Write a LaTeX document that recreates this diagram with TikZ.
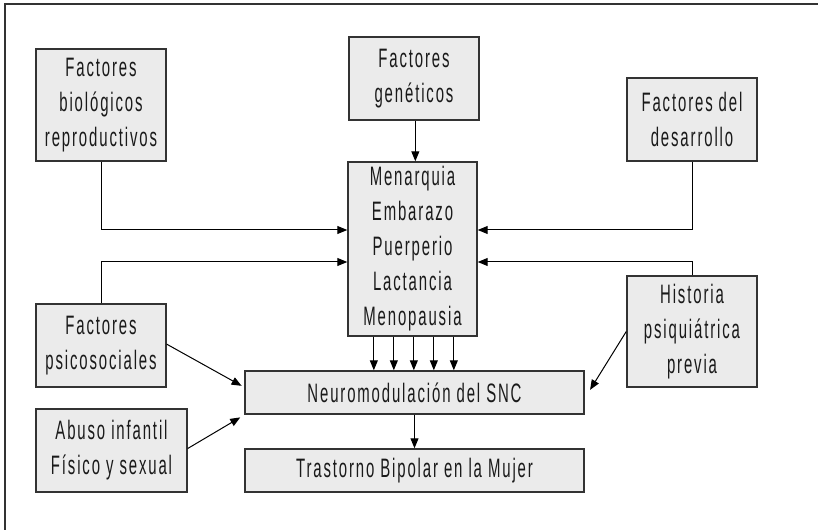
\documentclass[tikz,border=0pt]{standalone}
\usepackage{fontspec}
\setmainfont[FakeStretch=0.56,LetterSpace=7]{Liberation Sans}
\usetikzlibrary{arrows.meta}
\definecolor{boxfill}{HTML}{EBEBEB}
\definecolor{boxline}{HTML}{333333}
\definecolor{txt}{HTML}{1A1A1A}
\begin{document}
\begin{tikzpicture}[x=0.75pt,y=-0.75pt,
  fbox/.style={draw=boxline,fill=boxfill,line width=1.1pt,inner sep=0pt,
    align=center,text=txt,font=\fontsize{20}{26.25}\selectfont},
  arr/.style={line width=0.75pt,-{Triangle[length=7.5pt,width=6pt]}}]
\useasboundingbox (0,0) rectangle (818,530);
\coordinate (fa) at (5,530);
\coordinate (fb) at (5,4);
\coordinate (fc) at (818,4);
\draw[line width=1.3pt,boxline] (fa) -- (fb) -- (fc);

\node[fbox,minimum width=97.5pt,minimum height=84pt] (bio) at (101,105)
  {Factores\\biológicos\\reproductivos};
\node[fbox,minimum width=97.5pt,minimum height=62.25pt] (gen) at (414,78.5)
  {Factores\\genéticos};
\node[fbox,minimum width=96.75pt,minimum height=130.5pt] (men) at (412.5,249)
  {Menarquia\\Embarazo\\Puerperio\\Lactancia\\Menopausia};
\node[fbox,minimum width=97.5pt,minimum height=62.25pt] (des) at (692,119.5)
  {Factores del\\desarrollo};
\node[fbox,minimum width=97.5pt,minimum height=62.25pt] (psi) at (101,345.5)
  {Factores\\psicosociales};
\node[fbox,minimum width=113.25pt,minimum height=62.25pt] (abu) at (111.5,450.5)
  {Abuso infantil\\Físico y sexual};
\node[fbox,minimum width=254.25pt,minimum height=32.25pt] (neu) at (414.5,392.5)
  {Neuromodulación del SNC};
\node[fbox,minimum width=254.25pt,minimum height=32.25pt] (tra) at (414.5,470.5)
  {Trastorno Bipolar en la Mujer};
\node[fbox,minimum width=97.5pt,minimum height=83.25pt] (his) at (692,331.5)
  {Historia\\psiquiátrica\\previa};

\draw[arr] (bio.south) |- ([yshift=14.25pt]men.west);
\draw[arr] (psi.north) |- ([yshift=-9.75pt]men.west);
\draw[arr] (des.south) |- ([yshift=14.25pt]men.east);
\draw[arr] (his.north) |- ([yshift=-9.75pt]men.east);
\draw[arr] ([xshift=1pt]gen.south) -- ([xshift=1pt]gen.south |- men.north);
\foreach \dx in {-30,-15,0,15,30}{
  \draw[arr] ([xshift=\dx pt+1pt]men.south) -- ([xshift=\dx pt+1pt]men.south |- neu.north);
}
\draw[arr] (neu.south) -- (tra.north);
\draw[arr] ([yshift=1pt]psi.east) -- ([shift={(-2pt,5pt)}]neu.west);
\draw[arr] ([yshift=1.5pt]abu.east) -- ([shift={(-3pt,-2pt)}]neu.south west);
\draw[arr] (his.west) -- ([shift={(4pt,2pt)}]neu.east);
\end{tikzpicture}
\end{document}
